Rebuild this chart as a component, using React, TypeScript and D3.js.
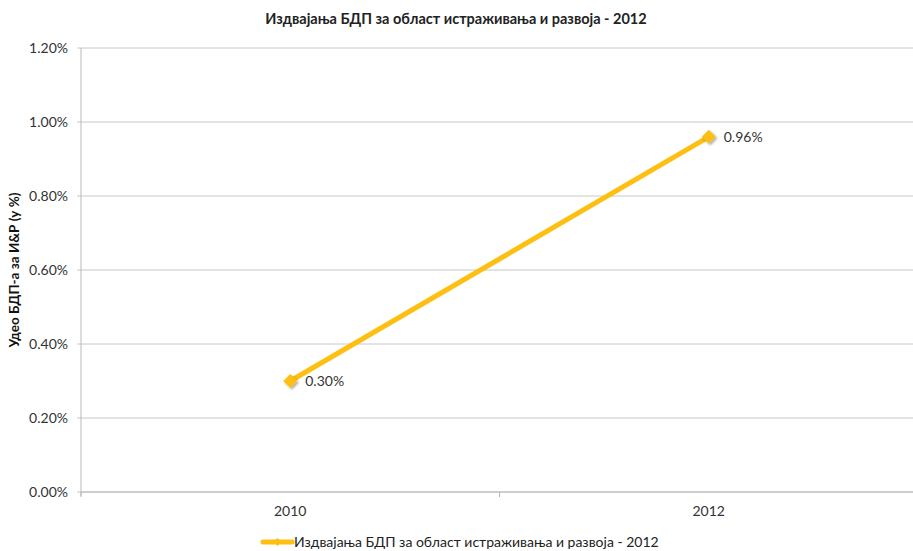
import React from "react";
import * as d3 from "d3";

const categories = ["2010", "2012"];
const values = [0.003, 0.0096];
const yTicks = [0, 0.002, 0.004, 0.006, 0.008, 0.01, 0.012];
const seriesName = "Издвајања БДП за област истраживања и развоја - 2012";
const chartTitle = "Издвајања БДП за област истраживања и развоја - 2012";
const yTitle = "Удео БДП-а за И&Р (у %)";

const W = 913;
const H = 551;
const M = { left: 81, right: -5, top: 48, bottom: 59 };
const FONT = "Lato, 'Open Sans', sans-serif";
const LINE = "#FDBF12";

export default function App() {
  const x = d3.scaleBand<string>().domain(categories).range([M.left, W - M.right]).padding(0);
  const y = d3.scaleLinear().domain([0, 0.012]).range([H - M.bottom, M.top]);
  const fmt = d3.format(".2%");
  const cx = (c: string) => (x(c) as number) + x.bandwidth() / 2;
  const line = d3
    .line<number>()
    .x((_, i) => cx(categories[i]))
    .y((d) => y(d));
  const boundaries = [M.left, ...categories.map((c) => (x(c) as number) + x.bandwidth())];
  const diamond = (px: number, py: number, r: number) =>
    `M${px},${py - r}L${px + r},${py}L${px},${py + r}L${px - r},${py}Z`;
  const legendY = 542;
  return (
    <svg
      width={W}
      height={H}
      style={{ position: "absolute", left: 0, top: 0, background: "#fff" }}
      fontFamily={FONT}
    >
      <defs>
        <filter id="sh" x="-50%" y="-50%" width="200%" height="200%">
          <feDropShadow dx="1.5" dy="1.5" stdDeviation="1.2" floodColor="#000" floodOpacity="0.35" />
        </filter>
      </defs>
      <text x={456} y={24} textAnchor="middle" fontSize={14.5} fontWeight="bold" fill="#222">
        {chartTitle}
      </text>
      {yTicks.map((t) => (
        <g key={t}>
          <line x1={77} x2={W} y1={y(t)} y2={y(t)} stroke="#c8c8c8" strokeWidth={1} />
          <text x={68} y={y(t)} dy="0.35em" textAnchor="end" fontSize={14} fill="#333">
            {fmt(t)}
          </text>
        </g>
      ))}
      <line x1={M.left} x2={M.left} y1={M.top} y2={y(0) + 4} stroke="#b8b8b8" />
      <line x1={M.left} x2={W} y1={y(0)} y2={y(0)} stroke="#b8b8b8" />
      {boundaries.map((b, i) => (
        <line key={i} x1={b} x2={b} y1={y(0)} y2={y(0) + 5} stroke="#b8b8b8" />
      ))}
      {categories.map((c) => (
        <text key={c} x={cx(c)} y={516} textAnchor="middle" fontSize={14} fill="#333">
          {c}
        </text>
      ))}
      <text
        transform={`translate(19,${(M.top + y(0)) / 2}) rotate(-90)`}
        textAnchor="middle"
        fontSize={13.5}
        fontWeight="bold"
        fill="#111"
      >
        {yTitle}
      </text>
      <path d={line(values) as string} fill="none" stroke={LINE} strokeWidth={5} strokeLinecap="round" />
      {values.map((v, i) => (
        <g key={i}>
          <path d={diamond(cx(categories[i]), y(v), 7)} fill={LINE} filter="url(#sh)" />
          <text x={cx(categories[i]) + 15} y={y(v)} dy="0.35em" fontSize={14} fill="#333">
            {fmt(v)}
          </text>
        </g>
      ))}
      <line x1={263} x2={292} y1={legendY} y2={legendY} stroke={LINE} strokeWidth={5} strokeLinecap="round" />
      <path d={diamond(277.5, legendY, 4)} fill={LINE} />
      <text x={294} y={legendY} dy="0.35em" fontSize={14} fill="#222">
        {seriesName}
      </text>
    </svg>
  );
}
